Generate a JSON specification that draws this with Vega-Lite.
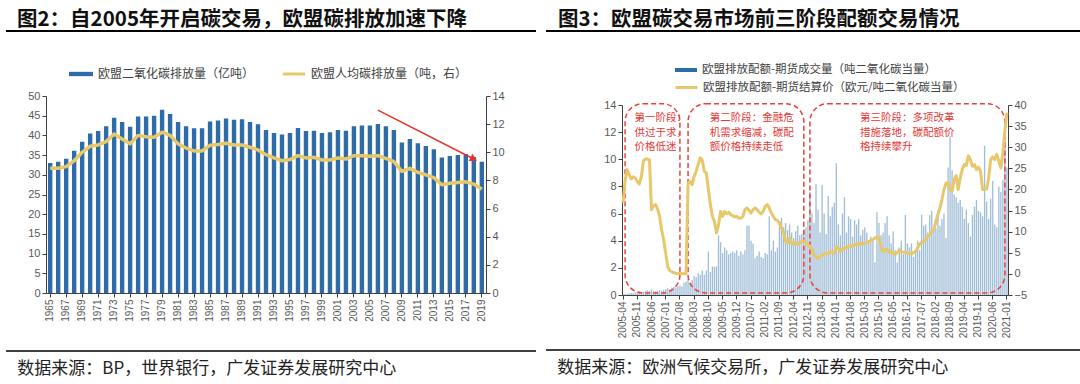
{
"$schema": "https://vega.github.io/schema/vega-lite/v6.json",
"padding": {"left": 5, "top": 9, "right": 0, "bottom": 10},
"background": "white",
"spacing": 8,
"resolve": {"scale": {"fill": "independent", "stroke": "independent", "x": "independent", "y": "independent"}, "legend": {"fill": "independent", "stroke": "independent"}},
"config": {"font": "Noto Sans CJK SC", "view": {"stroke": null}, "axis": {"grid": false, "labelFont": "Liberation Sans", "labelColor": "#595959", "domainColor": "#404040", "tickColor": "#404040", "title": null, "labelOverlap": false}},
"datasets": {
"one": [{}],
"emis": [
{"year":"1965","co2":33.0,"pc":8.86},{"year":"1966","co2":33.3,"pc":8.86},{"year":"1967","co2":34.1,"pc":8.98},{"year":"1968","co2":36.1,"pc":9.4},{"year":"1969","co2":38.4,"pc":10.0},
{"year":"1970","co2":40.5,"pc":10.43},{"year":"1971","co2":41.1,"pc":10.52},{"year":"1972","co2":42.3,"pc":10.76},{"year":"1973","co2":44.5,"pc":11.3},{"year":"1974","co2":43.4,"pc":10.95},
{"year":"1975","co2":42.2,"pc":10.6},{"year":"1976","co2":44.8,"pc":11.2},{"year":"1977","co2":44.8,"pc":11.1},{"year":"1978","co2":45.0,"pc":11.07},{"year":"1979","co2":46.5,"pc":11.43},
{"year":"1980","co2":45.4,"pc":11.2},{"year":"1981","co2":43.4,"pc":10.6},{"year":"1982","co2":42.3,"pc":10.3},{"year":"1983","co2":41.8,"pc":10.1},{"year":"1984","co2":41.8,"pc":10.1},
{"year":"1985","co2":43.5,"pc":10.5},{"year":"1986","co2":43.8,"pc":10.55},{"year":"1987","co2":44.3,"pc":10.64},{"year":"1988","co2":44.0,"pc":10.52},{"year":"1989","co2":44.1,"pc":10.52},
{"year":"1990","co2":43.4,"pc":10.36},{"year":"1991","co2":42.8,"pc":10.17},{"year":"1992","co2":41.4,"pc":9.83},{"year":"1993","co2":40.6,"pc":9.6},{"year":"1994","co2":40.2,"pc":9.4},
{"year":"1995","co2":40.6,"pc":9.48},{"year":"1996","co2":41.9,"pc":9.76},{"year":"1997","co2":41.1,"pc":9.6},{"year":"1998","co2":41.2,"pc":9.64},{"year":"1999","co2":40.6,"pc":9.45},
{"year":"2000","co2":40.8,"pc":9.45},{"year":"2001","co2":41.4,"pc":9.6},{"year":"2002","co2":41.2,"pc":9.52},{"year":"2003","co2":42.3,"pc":9.76},{"year":"2004","co2":42.5,"pc":9.76},
{"year":"2005","co2":42.5,"pc":9.71},{"year":"2006","co2":42.9,"pc":9.76},{"year":"2007","co2":42.3,"pc":9.57},{"year":"2008","co2":41.4,"pc":9.33},{"year":"2009","co2":38.2,"pc":8.64},
{"year":"2010","co2":39.1,"pc":8.86},{"year":"2011","co2":38.0,"pc":8.57},{"year":"2012","co2":37.3,"pc":8.4},{"year":"2013","co2":36.5,"pc":8.2},{"year":"2014","co2":34.4,"pc":7.69},
{"year":"2015","co2":34.8,"pc":7.8},{"year":"2016","co2":35.0,"pc":7.86},{"year":"2017","co2":35.3,"pc":7.9},{"year":"2018","co2":34.5,"pc":7.74},{"year":"2019","co2":33.3,"pc":7.38}
],
"arrow": [{"a":"2006","b":"2018","ya":46.4,"yb":34.0}],
"eua": [
{"m":"2005-04","vol":0.05,"price":16.8},{"m":"2005-05","vol":0.08,"price":22.0},{"m":"2005-06","vol":0.1,"price":24.7},{"m":"2005-07","vol":0.12,"price":23.5},{"m":"2005-08","vol":0.15,"price":22.5},{"m":"2005-09","vol":0.15,"price":23.0},{"m":"2005-10","vol":0.2,"price":22.7},{"m":"2005-11","vol":0.18,"price":21.9},{"m":"2005-12","vol":0.25,"price":21.3},
{"m":"2006-01","vol":0.22,"price":23.0},{"m":"2006-02","vol":0.25,"price":26.7},{"m":"2006-03","vol":0.3,"price":27.2},{"m":"2006-04","vol":0.35,"price":27.2},{"m":"2006-05","vol":0.3,"price":27.0},{"m":"2006-06","vol":0.4,"price":15.2},{"m":"2006-07","vol":0.3,"price":16.1},{"m":"2006-08","vol":0.28,"price":16.4},{"m":"2006-09","vol":0.3,"price":15.4},{"m":"2006-10","vol":0.35,"price":13.6},{"m":"2006-11","vol":0.32,"price":10.4},{"m":"2006-12","vol":0.38,"price":8.1},
{"m":"2007-01","vol":0.45,"price":4.9},{"m":"2007-02","vol":0.5,"price":1.7},{"m":"2007-03","vol":0.42,"price":0.8},{"m":"2007-04","vol":0.55,"price":0.5},{"m":"2007-05","vol":0.6,"price":0.3},{"m":"2007-06","vol":0.55,"price":0.1},{"m":"2007-07","vol":0.65,"price":0.1},{"m":"2007-08","vol":0.7,"price":0.1},{"m":"2007-09","vol":0.62,"price":0.1},{"m":"2007-10","vol":0.9,"price":0.05},{"m":"2007-11","vol":1.0,"price":0.05},{"m":"2007-12","vol":1.2,"price":21.5},
{"m":"2008-01","vol":0.9,"price":21.9},{"m":"2008-02","vol":1.1,"price":21.1},{"m":"2008-03","vol":1.4,"price":23.1},{"m":"2008-04","vol":1.3,"price":24.3},{"m":"2008-05","vol":1.6,"price":25.9},{"m":"2008-06","vol":1.5,"price":27.5},{"m":"2008-07","vol":1.8,"price":26.9},{"m":"2008-08","vol":1.5,"price":24.3},{"m":"2008-09","vol":1.8,"price":23.9},{"m":"2008-10","vol":3.2,"price":20.0},{"m":"2008-11","vol":1.7,"price":16.4},{"m":"2008-12","vol":2.1,"price":13.6},
{"m":"2009-01","vol":2.1,"price":12.4},{"m":"2009-02","vol":2.1,"price":9.7},{"m":"2009-03","vol":4.4,"price":11.6},{"m":"2009-04","vol":3.9,"price":14.8},{"m":"2009-05","vol":3.1,"price":13.6},{"m":"2009-06","vol":3.5,"price":14.8},{"m":"2009-07","vol":3.3,"price":14.2},{"m":"2009-08","vol":3.0,"price":14.6},{"m":"2009-09","vol":3.1,"price":14.0},{"m":"2009-10","vol":3.2,"price":13.8},{"m":"2009-11","vol":3.1,"price":13.5},{"m":"2009-12","vol":3.3,"price":13.6},
{"m":"2010-01","vol":2.9,"price":13.2},{"m":"2010-02","vol":3.2,"price":13.2},{"m":"2010-03","vol":3.0,"price":13.6},{"m":"2010-04","vol":3.3,"price":15.2},{"m":"2010-05","vol":5.1,"price":15.6},{"m":"2010-06","vol":5.1,"price":15.0},{"m":"2010-07","vol":4.0,"price":14.4},{"m":"2010-08","vol":3.8,"price":15.2},{"m":"2010-09","vol":2.7,"price":15.6},{"m":"2010-10","vol":2.9,"price":15.2},{"m":"2010-11","vol":3.2,"price":14.6},{"m":"2010-12","vol":2.8,"price":14.2},
{"m":"2011-01","vol":2.7,"price":14.8},{"m":"2011-02","vol":3.1,"price":16.0},{"m":"2011-03","vol":3.0,"price":16.4},{"m":"2011-04","vol":5.8,"price":15.6},{"m":"2011-05","vol":3.3,"price":14.4},{"m":"2011-06","vol":4.0,"price":13.6},{"m":"2011-07","vol":3.2,"price":12.8},{"m":"2011-08","vol":3.5,"price":12.7},{"m":"2011-09","vol":5.4,"price":12.0},{"m":"2011-10","vol":5.7,"price":10.8},{"m":"2011-11","vol":5.0,"price":10.0},{"m":"2011-12","vol":5.3,"price":7.7},
{"m":"2012-01","vol":4.8,"price":7.3},{"m":"2012-02","vol":5.2,"price":8.5},{"m":"2012-03","vol":4.6,"price":7.3},{"m":"2012-04","vol":4.2,"price":6.9},{"m":"2012-05","vol":4.7,"price":7.4},{"m":"2012-06","vol":5.1,"price":7.1},{"m":"2012-07","vol":4.4,"price":7.4},{"m":"2012-08","vol":4.5,"price":7.7},{"m":"2012-09","vol":4.8,"price":7.9},{"m":"2012-10","vol":5.0,"price":7.4},{"m":"2012-11","vol":5.5,"price":6.9},{"m":"2012-12","vol":7.6,"price":6.5},
{"m":"2013-01","vol":6.0,"price":5.7},{"m":"2013-02","vol":5.3,"price":4.5},{"m":"2013-03","vol":8.2,"price":4.1},{"m":"2013-04","vol":6.3,"price":3.7},{"m":"2013-05","vol":4.6,"price":4.1},{"m":"2013-06","vol":8.1,"price":4.5},{"m":"2013-07","vol":6.0,"price":4.7},{"m":"2013-08","vol":4.5,"price":4.9},{"m":"2013-09","vol":7.3,"price":4.8},{"m":"2013-10","vol":5.8,"price":5.3},{"m":"2013-11","vol":6.5,"price":5.1},{"m":"2013-12","vol":6.8,"price":4.9},
{"m":"2014-01","vol":9.7,"price":6.5},{"m":"2014-02","vol":5.2,"price":6.1},{"m":"2014-03","vol":4.4,"price":5.3},{"m":"2014-04","vol":6.0,"price":5.8},{"m":"2014-05","vol":7.2,"price":6.3},{"m":"2014-06","vol":4.6,"price":6.1},{"m":"2014-07","vol":5.8,"price":6.5},{"m":"2014-08","vol":5.6,"price":6.6},{"m":"2014-09","vol":4.3,"price":6.5},{"m":"2014-10","vol":5.5,"price":6.9},{"m":"2014-11","vol":5.2,"price":7.1},{"m":"2014-12","vol":5.6,"price":6.9},
{"m":"2015-01","vol":4.4,"price":7.3},{"m":"2015-02","vol":4.8,"price":7.1},{"m":"2015-03","vol":5.0,"price":7.3},{"m":"2015-04","vol":4.6,"price":7.4},{"m":"2015-05","vol":3.9,"price":7.7},{"m":"2015-06","vol":4.3,"price":7.9},{"m":"2015-07","vol":4.1,"price":8.1},{"m":"2015-08","vol":2.4,"price":8.5},{"m":"2015-09","vol":6.1,"price":8.7},{"m":"2015-10","vol":5.3,"price":8.5},{"m":"2015-11","vol":4.4,"price":6.5},{"m":"2015-12","vol":4.6,"price":5.3},
{"m":"2016-01","vol":5.3,"price":5.7},{"m":"2016-02","vol":5.8,"price":5.8},{"m":"2016-03","vol":4.4,"price":5.1},{"m":"2016-04","vol":3.8,"price":5.3},{"m":"2016-05","vol":4.7,"price":4.9},{"m":"2016-06","vol":3.3,"price":4.5},{"m":"2016-07","vol":2.4,"price":5.1},{"m":"2016-08","vol":3.5,"price":5.7},{"m":"2016-09","vol":4.0,"price":5.3},{"m":"2016-10","vol":3.0,"price":5.1},{"m":"2016-11","vol":5.9,"price":5.1},{"m":"2016-12","vol":3.8,"price":4.9},
{"m":"2017-01","vol":3.5,"price":4.9},{"m":"2017-02","vol":3.8,"price":4.7},{"m":"2017-03","vol":2.8,"price":5.1},{"m":"2017-04","vol":3.2,"price":5.3},{"m":"2017-05","vol":4.0,"price":6.1},{"m":"2017-06","vol":3.3,"price":7.1},{"m":"2017-07","vol":5.9,"price":7.4},{"m":"2017-08","vol":5.1,"price":7.7},{"m":"2017-09","vol":5.2,"price":8.1},{"m":"2017-10","vol":4.6,"price":8.9},{"m":"2017-11","vol":5.9,"price":9.3},{"m":"2017-12","vol":6.2,"price":10.0},
{"m":"2018-01","vol":5.0,"price":10.4},{"m":"2018-02","vol":4.9,"price":12.4},{"m":"2018-03","vol":6.2,"price":14.0},{"m":"2018-04","vol":5.1,"price":15.6},{"m":"2018-05","vol":5.6,"price":17.6},{"m":"2018-06","vol":6.0,"price":20.0},{"m":"2018-07","vol":4.2,"price":21.5},{"m":"2018-08","vol":9.4,"price":21.5},{"m":"2018-09","vol":11.7,"price":20.0},{"m":"2018-10","vol":9.2,"price":19.6},{"m":"2018-11","vol":7.4,"price":22.3},{"m":"2018-12","vol":7.2,"price":23.3},
{"m":"2019-01","vol":6.8,"price":20.0},{"m":"2019-02","vol":7.0,"price":22.7},{"m":"2019-03","vol":6.5,"price":24.7},{"m":"2019-04","vol":5.6,"price":25.9},{"m":"2019-05","vol":6.3,"price":25.7},{"m":"2019-06","vol":5.3,"price":28.0},{"m":"2019-07","vol":4.3,"price":27.1},{"m":"2019-08","vol":5.9,"price":25.5},{"m":"2019-09","vol":6.5,"price":25.9},{"m":"2019-10","vol":7.0,"price":24.7},{"m":"2019-11","vol":6.2,"price":25.3},{"m":"2019-12","vol":6.1,"price":24.3},
{"m":"2020-01","vol":5.8,"price":20.0},{"m":"2020-02","vol":11.0,"price":20.0},{"m":"2020-03","vol":6.9,"price":20.1},{"m":"2020-04","vol":5.6,"price":22.7},{"m":"2020-05","vol":7.1,"price":27.1},{"m":"2020-06","vol":8.4,"price":27.7},{"m":"2020-07","vol":5.2,"price":27.1},{"m":"2020-08","vol":5.0,"price":28.3},{"m":"2020-09","vol":8.0,"price":26.7},{"m":"2020-10","vol":7.6,"price":25.1},{"m":"2020-11","vol":8.5,"price":28.7},{"m":"2020-12","vol":12.6,"price":34.2},
{"m":"2021-01","vol":9.4,"price":38.2}
],
"phases": [
{"a":"2005-05","b":"2007-08","top":14.1,"bot":0.15},
{"a":"2007-12","b":"2012-09","top":14.1,"bot":0.15},
{"a":"2012-12","b":"2020-12","top":14.1,"bot":0.15}
],
"notes": [
{"m":"2005-10","v":13.4,"t":"第一阶段：\n供过于求，\n价格低迷"},
{"m":"2008-11","v":13.4,"t":"第二阶段：金融危\n机需求缩减，碳配\n额价格持续走低"},
{"m":"2015-01","v":13.4,"t":"第三阶段：多项改革\n措施落地，碳配额价\n格持续攀升"}
]
},
"hconcat": [
{
"bounds": "flush",
"spacing": 58,
"resolve": {"scale": {"fill": "independent", "stroke": "independent", "x": "independent", "y": "independent"}, "legend": {"fill": "independent", "stroke": "independent"}},
"vconcat": [
{
"width": 530, "height": 7,
"data": {"name": "one"},
"title": {"text": "图2：自2005年开启碳交易，欧盟碳排放加速下降", "anchor": "start", "fontSize": 20.5, "fontWeight": "bold", "color": "#111111", "offset": 0, "dx": 12},
"mark": {"type": "rule", "color": "#000000", "strokeWidth": 2},
"encoding": {"y": {"datum": 1, "type": "quantitative", "scale": {"domain": [0, 1]}, "axis": null}}
},
{
"width": 530, "height": 197,
"data": {"name": "emis"},
"layer": [
{"layer": [
{"mark": {"type": "bar", "color": "#2d6ca8"},
"encoding": {
"x": {"field": "year", "type": "ordinal", "title": null, "scale": {"range": [40, 480], "paddingInner": 0.45, "paddingOuter": 0.25},
"axis": {"values": ["1965","1967","1969","1971","1973","1975","1977","1979","1981","1983","1985","1987","1989","1991","1993","1995","1997","1999","2001","2003","2005","2007","2009","2011","2013","2015","2017","2019"], "labelAngle": -90, "labelFontSize": 10, "tickSize": 4, "labelPadding": 2}},
"y": {"field": "co2", "type": "quantitative", "title": null, "scale": {"domain": [0, 50]}, "axis": {"orient": "left", "offset": -40, "values": [0,5,10,15,20,25,30,35,40,45,50], "labelFontSize": 11, "tickSize": 4}},
"fill": {"datum": "欧盟二氧化碳排放量（亿吨）", "type": "nominal", "scale": {"range": ["#2d6ca8"]},
"legend": {"orient": "none", "legendX": 62, "legendY": -35, "title": null, "symbolType": "M-1,-0.18H1V0.18H-1Z", "symbolSize": 576, "labelFontSize": 12, "labelLimit": 400, "labelColor": "#404040", "labelFont": "Noto Sans CJK SC", "symbolOpacity": 1}}
}},
{"data": {"name": "arrow"}, "mark": {"type": "rule", "color": "#e8322c", "strokeWidth": 1.5},
"encoding": {"x": {"field": "a", "type": "ordinal", "title": null, "bandPosition": 0.5}, "x2": {"field": "b"},
"y": {"field": "ya", "type": "quantitative", "title": null, "axis": {"orient": "left", "offset": -40, "values": [0,5,10,15,20,25,30,35,40,45,50], "labelFontSize": 11, "tickSize": 4}}, "y2": {"field": "yb"}}},
{"data": {"name": "arrow"}, "mark": {"type": "point", "shape": "triangle-right", "filled": true, "color": "#e8322c", "size": 70, "angle": 27, "opacity": 1},
"encoding": {"x": {"field": "b", "type": "ordinal", "title": null},
"y": {"field": "yb", "type": "quantitative", "title": null, "axis": {"orient": "left", "offset": -40, "values": [0,5,10,15,20,25,30,35,40,45,50], "labelFontSize": 11, "tickSize": 4}}}}
]},
{"mark": {"type": "line", "strokeWidth": 3.5, "strokeJoin": "round"},
"encoding": {
"x": {"field": "year", "type": "ordinal", "title": null},
"y": {"field": "pc", "type": "quantitative", "title": null, "scale": {"domain": [0, 14]}, "axis": {"orient": "right", "offset": -50, "values": [0,2,4,6,8,10,12,14], "labelFontSize": 11, "tickSize": 4}},
"stroke": {"datum": "欧盟人均碳排放量（吨，右）", "type": "nominal", "scale": {"range": ["#e6c86a"]},
"legend": {"orient": "none", "legendX": 275, "legendY": -35, "title": null, "symbolType": "stroke", "symbolSize": 500, "symbolStrokeWidth": 3, "labelFontSize": 12, "labelLimit": 400, "labelColor": "#404040", "labelFont": "Noto Sans CJK SC"}}
}}
],
"resolve": {"scale": {"y": "independent"}}
},
{
"width": 530, "height": 2,
"data": {"name": "one"},
"title": {"text": "数据来源：BP，世界银行，广发证券发展研究中心", "orient": "bottom", "anchor": "start", "fontSize": 17, "fontWeight": "normal", "color": "#222222", "offset": 8, "dx": 12},
"mark": {"type": "rule", "color": "#000000", "strokeWidth": 1.5},
"encoding": {"y": {"datum": 1, "type": "quantitative", "scale": {"domain": [0, 1]}, "axis": null}}
}
]
},
{
"bounds": "flush",
"spacing": 55,
"resolve": {"scale": {"fill": "independent", "stroke": "independent", "x": "independent", "y": "independent"}, "legend": {"fill": "independent", "stroke": "independent"}},
"vconcat": [
{
"width": 537, "height": 19,
"data": {"name": "one"},
"title": {"text": "图3：欧盟碳交易市场前三阶段配额交易情况", "anchor": "start", "fontSize": 20.5, "fontWeight": "bold", "color": "#111111", "offset": 0, "dx": 13},
"mark": {"type": "rule", "color": "#000000", "strokeWidth": 2},
"encoding": {"y": {"datum": 1, "type": "quantitative", "scale": {"domain": [0, 1]}, "axis": null}}
},
{
"width": 537, "height": 190,
"data": {"name": "eua"},
"layer": [
{"layer": [
{"mark": {"type": "bar", "opacity": 0.45},
"encoding": {
"x": {"field": "m", "type": "ordinal", "title": null, "scale": {"range": [76, 462], "paddingInner": 0.35, "paddingOuter": 0.2},
"axis": {"values": ["2005-04","2005-11","2006-06","2007-01","2007-08","2008-03","2008-10","2009-05","2009-12","2010-07","2011-02","2011-09","2012-04","2012-11","2013-06","2014-01","2014-08","2015-03","2015-10","2016-05","2016-12","2017-07","2018-02","2018-09","2019-04","2019-11","2020-06","2021-01"], "labelAngle": -90, "labelFontSize": 10, "tickSize": 4, "labelPadding": 2}},
"y": {"field": "vol", "type": "quantitative", "title": null, "scale": {"domain": [0, 14]}, "axis": {"orient": "left", "offset": -76, "values": [0,2,4,6,8,10,12,14], "labelFontSize": 11, "tickSize": 4}},
"fill": {"datum": "欧盟排放配额-期货成交量（吨二氧化碳当量）", "type": "nominal", "scale": {"range": ["#2d6ca8"]},
"legend": {"orient": "none", "legendX": 128, "legendY": -47, "title": null, "symbolType": "M-1,-0.18H1V0.18H-1Z", "symbolSize": 484, "labelFontSize": 11.5, "labelLimit": 400, "labelColor": "#404040", "labelFont": "Noto Sans CJK SC", "symbolOpacity": 1}}
}},
{"data": {"name": "phases"}, "mark": {"type": "rect", "filled": false, "stroke": "#e8413c", "strokeWidth": 1.5, "strokeDash": [5, 3], "cornerRadius": 18},
"encoding": {"x": {"field": "a", "type": "ordinal", "title": null}, "x2": {"field": "b"},
"y": {"field": "top", "type": "quantitative", "title": null, "axis": {"orient": "left", "offset": -76, "values": [0,2,4,6,8,10,12,14], "labelFontSize": 11, "tickSize": 4}}, "y2": {"field": "bot"}}},
{"data": {"name": "notes"}, "mark": {"type": "text", "align": "left", "baseline": "top", "lineBreak": "\n", "lineHeight": 14.5, "fontSize": 10.5, "color": "#e53935"},
"encoding": {"x": {"field": "m", "type": "ordinal", "title": null, "bandPosition": 0},
"y": {"field": "v", "type": "quantitative", "title": null, "axis": {"orient": "left", "offset": -76, "values": [0,2,4,6,8,10,12,14], "labelFontSize": 11, "tickSize": 4}}, "text": {"field": "t"}}}
]},
{"mark": {"type": "line", "strokeWidth": 3, "strokeJoin": "round"},
"encoding": {
"x": {"field": "m", "type": "ordinal", "title": null},
"y": {"field": "price", "type": "quantitative", "title": null, "scale": {"domain": [-5, 40]}, "axis": {"orient": "right", "offset": -75, "values": [-5,0,5,10,15,20,25,30,35,40], "labelFontSize": 11, "tickSize": 4}},
"stroke": {"datum": "欧盟排放配额-期货结算价（欧元/吨二氧化碳当量）", "type": "nominal", "scale": {"range": ["#e6c86a"]},
"legend": {"orient": "none", "legendX": 128, "legendY": -30, "title": null, "symbolType": "stroke", "symbolSize": 484, "symbolStrokeWidth": 3, "labelFontSize": 11.5, "labelLimit": 400, "labelColor": "#404040", "labelFont": "Noto Sans CJK SC"}}
}}
],
"resolve": {"scale": {"y": "independent"}}
},
{
"width": 537, "height": 2,
"data": {"name": "one"},
"title": {"text": "数据来源：欧洲气候交易所，广发证券发展研究中心", "orient": "bottom", "anchor": "start", "fontSize": 17, "fontWeight": "normal", "color": "#222222", "offset": 8, "dx": 12},
"mark": {"type": "rule", "color": "#000000", "strokeWidth": 1.5},
"encoding": {"y": {"datum": 1, "type": "quantitative", "scale": {"domain": [0, 1]}, "axis": null}}
}
]
}
]
}
